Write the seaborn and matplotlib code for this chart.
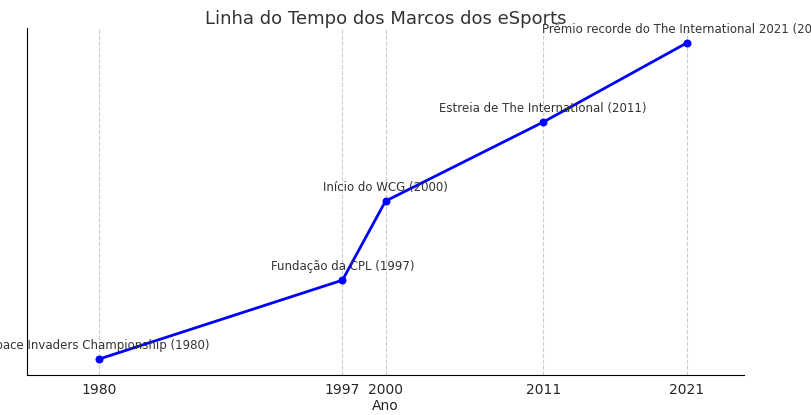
import seaborn as sns
import matplotlib.pyplot as plt
import pandas as pd

anos = [1980, 1997, 2000, 2011, 2021]
niveis = [1, 2, 3, 4, 5]
marcos = ['Space Invaders Championship (1980)', 'Fundação da CPL (1997)',
          'Início do WCG (2000)', 'Estreia de The International (2011)',
          'Prêmio recorde do The International 2021 (2021)']

df = pd.DataFrame({'Ano': anos, 'nivel': niveis, 'marco': marcos})

sns.set_style('white')
fig = plt.figure(figsize=(8.12, 4.15), dpi=100)
ax = fig.add_axes([27/812, 40/415, 717/812, 347/415])
sns.lineplot(data=df, x='Ano', y='nivel', color='blue', marker='o', markersize=5,
             markeredgecolor='blue', linewidth=2, ax=ax)
for _, r in df.iterrows():
    ax.annotate(r['marco'], (r['Ano'], r['nivel']), xytext=(0, 7), textcoords='offset points',
                ha='center', fontsize=8.5, color='#333333')

ax.set_xlim(1975, 2025)
ax.set_ylim(0.8, 5.19)
ax.set_xticks(anos)
ax.set_yticks([])
ax.tick_params(axis='x', labelsize=10, length=4, color='#333333', pad=2)
ax.grid(axis='x', linestyle='--', color='#cccccc', linewidth=0.8)
for s in ['top', 'right']:
    ax.spines[s].set_visible(False)
for s in ['left', 'bottom']:
    ax.spines[s].set_color('black')
ax.set_ylabel('')
ax.set_xlabel('Ano', fontsize=10, labelpad=1)
ax.set_title('Linha do Tempo dos Marcos dos eSports', fontsize=13, color='#333333', pad=3)
fig.savefig('out.png', dpi=100)
